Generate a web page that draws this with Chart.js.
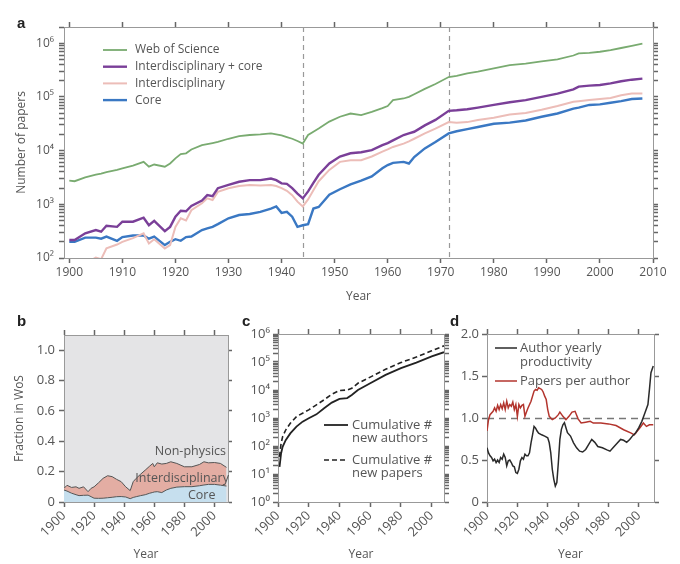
<!DOCTYPE html>
<html>
<head>
<meta charset="utf-8">
<script src="https://cdn.jsdelivr.net/npm/chart.js@4.4.1/dist/chart.umd.min.js"></script>
<style>
  body { margin: 0; background: #fff; }
  #fig { position: relative; width: 680px; height: 564px; overflow: hidden; }
  canvas { position: absolute; }
  .tag { position: absolute; font: bold 15px 'Liberation Sans', Arial, sans-serif; line-height: 15px; color: #222; }
</style>
</head>
<body>
<div id="fig">
  <canvas id="chartA" width="680" height="306" style="left:0;top:0"></canvas>
  <canvas id="chartB" width="232" height="264" style="left:0;top:300px"></canvas>
  <canvas id="chartC" width="223" height="264" style="left:232px;top:300px"></canvas>
  <canvas id="chartD" width="225" height="264" style="left:455px;top:300px"></canvas>
  <div class="tag" style="left:17px;top:15px">a</div>
  <div class="tag" style="left:17px;top:313px">b</div>
  <div class="tag" style="left:242px;top:313px">c</div>
  <div class="tag" style="left:450px;top:313px">d</div>
</div>
<script>
// ------------------ Dados (a) ------------------
const yearsA = [1900, 1901, 1903, 1905, 1906, 1907, 1909, 1910, 1912, 1914,
  1915, 1916, 1918, 1919, 1920, 1921, 1922, 1923, 1925, 1926,
  1927, 1928, 1930, 1932, 1934, 1936, 1938, 1939, 1940, 1941,
  1942, 1943, 1944, 1945, 1946, 1947, 1949, 1951, 1953, 1955,
  1957, 1959, 1960, 1961, 1963, 1964, 1965, 1967, 1969, 1971.5,
  1973, 1975, 1977, 1980, 1983, 1986, 1989, 1992, 1995, 1996,
  1998, 2000, 2002, 2004, 2006, 2008];
const wosPapers = [2750, 2690, 3160, 3550, 3720, 3980, 4370, 4680, 5250, 6170,
  5010, 5500, 5010, 5750, 7160, 8630, 8910, 10500, 12600, 13200,
  13800, 14500, 16600, 18600, 19500, 20000, 20900, 20000, 19100, 17800,
  16600, 15100, 13500, 19500, 22400, 25700, 34700, 42700, 49000, 45700,
  52500, 61700, 67600, 87100, 93300, 100000, 112000, 141000, 174000, 234000,
  245000, 275000, 295000, 339000, 389000, 417000, 457000, 501000, 589000, 646000,
  661000, 692000, 741000, 813000, 891000, 977000];
const interCorePapers = [216, 216, 288, 331, 309, 398, 380, 474, 474, 562,
  407, 490, 316, 380, 589, 759, 741, 933, 1175, 1479,
  1413, 1995, 2290, 2630, 2820, 2820, 3020, 2820, 2450, 2400,
  1995, 1585, 1290, 1740, 2510, 3550, 5750, 7760, 8910, 9330,
  10200, 12600, 13800, 15500, 19500, 20900, 22400, 29500, 37200, 55000,
  56200, 58900, 63100, 70800, 79400, 87100, 100000, 115000, 138000, 155000,
  162000, 166000, 178000, 195000, 209000, 219000];
const interPapers = [63, 63, 79, 102, 95, 151, 178, 200, 234, 288,
  186, 224, 151, 174, 380, 550, 501, 776, 1047, 1290,
  1200, 1700, 1995, 2190, 2290, 2240, 2290, 2190, 1995, 1780,
  1480, 1120, 912, 1230, 1820, 2690, 4370, 6170, 6610, 6610,
  7760, 9550, 10500, 11700, 13500, 14800, 16600, 20900, 25700, 33900,
  33100, 33900, 37200, 40700, 46800, 50100, 57500, 67600, 81300, 83200,
  87100, 91200, 95500, 107000, 115000, 115000];
const corePapers = [200, 200, 240, 240, 229, 251, 209, 245, 263, 263,
  229, 251, 174, 200, 224, 209, 245, 251, 331, 355,
  380, 427, 550, 631, 661, 724, 832, 912, 692, 724,
  589, 380, 407, 427, 832, 891, 1510, 1905, 2340, 2750,
  3310, 4680, 5370, 5890, 6170, 5750, 7590, 11000, 14500, 20900,
  22900, 25100, 27500, 31600, 33100, 36300, 42700, 49000, 60300, 63100,
  70800, 72400, 77600, 83200, 91200, 93300];
const splitYears = [1944, 1971.5];
const decadeTicks = [1900, 1910, 1920, 1930, 1940, 1950, 1960, 1970, 1980, 1990, 2000, 2010];
const paperDecades = [1e2, 1e3, 1e4, 1e5, 1e6];

// ------------------ Dados (b) ------------------
const yearsB = [1900, 1902, 1905, 1908, 1910, 1913, 1916, 1918, 1920, 1923,
  1926, 1929, 1932, 1935, 1938, 1941, 1944, 1946, 1948, 1951,
  1954, 1957, 1959, 1960, 1962, 1965, 1968, 1971, 1975, 1980,
  1985, 1990, 1993, 1996, 2000, 2004, 2008];
const coreFrac = [0.079, 0.072, 0.058, 0.048, 0.042, 0.044, 0.045, 0.035, 0.025, 0.024,
  0.025, 0.028, 0.031, 0.035, 0.036, 0.033, 0.022, 0.030, 0.035, 0.042,
  0.048, 0.058, 0.063, 0.066, 0.068, 0.062, 0.079, 0.090, 0.098, 0.101,
  0.101, 0.107, 0.112, 0.116, 0.116, 0.111, 0.105];
const physicsFrac = [0.090, 0.110, 0.096, 0.100, 0.090, 0.100, 0.068, 0.090, 0.100, 0.127,
  0.156, 0.173, 0.167, 0.149, 0.134, 0.100, 0.075, 0.134, 0.156, 0.184,
  0.210, 0.237, 0.254, 0.232, 0.258, 0.250, 0.254, 0.265, 0.254, 0.232,
  0.232, 0.247, 0.265, 0.258, 0.260, 0.254, 0.228];
const fracTicks = [0, 0.2, 0.4, 0.6, 0.8, 1.0];
const twentyTicks = [1900, 1920, 1940, 1960, 1980, 2000];

// ------------------ Dados (c) ------------------
const yearsC = [1901, 1902, 1903, 1905, 1908, 1912, 1916, 1920, 1925, 1930,
  1935, 1940, 1945, 1948, 1952, 1960, 1970, 1980, 1990, 2000, 2008];
const cumAuthors = [18, 54, 93, 162, 282, 490, 741, 977, 1350, 2240,
  3550, 4790, 5130, 6610, 10000, 17400, 34700, 60300, 95500, 158000, 224000];
const cumPapers = [41, 123, 214, 372, 646, 1120, 1480, 1950, 2950, 4470,
  7080, 9550, 10000, 11500, 17400, 28800, 55000, 95500, 151000, 251000, 380000];
const countDecades = [1e0, 1e1, 1e2, 1e3, 1e4, 1e5, 1e6];

// ------------------ Dados (d) ------------------
const yearsProd = [1900, 1901, 1902, 1903, 1904, 1905, 1906, 1907, 1908, 1909,
  1910, 1911, 1912, 1913, 1914, 1915, 1916, 1917, 1918, 1919,
  1920, 1921, 1922, 1923, 1924, 1925, 1926, 1927, 1928, 1929,
  1930, 1931, 1932, 1933, 1934, 1936, 1938, 1940, 1941, 1942,
  1943, 1944, 1945, 1946, 1947, 1948, 1949, 1950, 1951, 1952,
  1953, 1955, 1957, 1959, 1961, 1963, 1965, 1967, 1969, 1971,
  1973, 1976, 1979, 1981, 1983, 1986, 1988, 1990, 1992, 1994,
  1996, 1998, 2000, 2002, 2004, 2006, 2007, 2008, 2009.5];
const authorProductivity = [0.645, 0.585, 0.55, 0.53, 0.49, 0.51, 0.47, 0.50, 0.47, 0.53,
  0.51, 0.57, 0.53, 0.43, 0.49, 0.50, 0.47, 0.43, 0.42, 0.35,
  0.34, 0.39, 0.49, 0.53, 0.51, 0.57, 0.55, 0.55, 0.585, 0.705,
  0.80, 0.90, 0.88, 0.845, 0.82, 0.80, 0.785, 0.765, 0.705, 0.585,
  0.39, 0.27, 0.19, 0.23, 0.47, 0.745, 0.865, 0.92, 0.945, 0.885,
  0.825, 0.785, 0.705, 0.645, 0.605, 0.595, 0.625, 0.685, 0.745, 0.71,
  0.66, 0.645, 0.62, 0.605, 0.645, 0.705, 0.745, 0.735, 0.71, 0.745,
  0.79, 0.825, 0.885, 0.96, 1.06, 1.16, 1.34, 1.54, 1.62];
const yearsPPA = [1900, 1901, 1902, 1904, 1905, 1906, 1907, 1908, 1909, 1910,
  1911, 1912, 1913, 1914, 1915, 1916, 1917, 1918, 1919, 1920,
  1921, 1922, 1923, 1924, 1925, 1926, 1927, 1929, 1931, 1932,
  1933, 1934, 1935, 1936, 1937, 1938, 1939, 1940, 1941, 1943,
  1945, 1947, 1948, 1950, 1952, 1954, 1956, 1958, 1960, 1962,
  1965, 1968, 1970, 1975, 1980, 1985, 1990, 1995, 1997, 1999,
  2001, 2003, 2005, 2007, 2009.5];
const papersPerAuthor = [0.845, 0.98, 1.04, 1.08, 1.12, 1.08, 1.15, 1.10, 1.16, 1.11,
  1.18, 1.10, 1.20, 1.12, 1.16, 1.14, 1.19, 1.10, 1.16, 1.02,
  1.16, 1.12, 1.15, 1.16, 1.02, 1.07, 1.12, 1.20, 1.32, 1.34,
  1.33, 1.36, 1.35, 1.34, 1.31, 1.26, 1.22, 1.10, 1.02, 0.98,
  1.00, 1.04, 1.07, 1.02, 0.98, 1.02, 1.07, 1.08, 0.99, 0.94,
  0.95, 0.96, 0.94, 0.94, 0.93, 0.91, 0.86, 0.82, 0.80, 0.845,
  0.89, 0.94, 0.90, 0.92, 0.92];
const unityLine = [1];
const halfTicks = [0, 0.5, 1.0, 1.5, 2.0];

// ------------------ Padrões ------------------
Chart.defaults.font.family = "'Open Sans', 'DejaVu Sans', sans-serif";
Chart.defaults.font.size = 12;
Chart.defaults.color = '#555';
Chart.defaults.animation = false;
Chart.defaults.responsive = false;
Chart.defaults.plugins.legend.display = false;
Chart.defaults.plugins.tooltip.enabled = false;
Chart.defaults.elements.point.radius = 0;
Chart.defaults.elements.line.tension = 0;

const sup = {'0': '\u2070', '1': '\u00b9', '2': '\u00b2', '3': '\u00b3', '4': '\u2074', '5': '\u2075', '6': '\u2076'};
function powLabel(v) {
  const e = Math.round(Math.log10(v));
  return Math.abs(v - Math.pow(10, e)) < 1e-6 * v ? '10' + sup[e] : '';
}
function fixTicks(list) {
  return s => { s.ticks = list.map(v => ({value: v})); };
}
// marcas menores 1..9 em cada década
function logTicks(decades) {
  return s => {
    const t = [];
    decades.forEach(d => {
      for (let k = 1; k < 10; k++) {
        if (d * k <= s.max * 1.0001) t.push({value: d * k});
      }
    });
    s.ticks = t;
  };
}
function axis(pos, size, extra) {
  return Object.assign({
    position: pos,
    border: {color: '#999'},
    grid: {display: true, drawOnChartArea: false, drawTicks: true, tickLength: 5, tickColor: '#666', tickWidth: 1.5},
    afterFit: s => { if (s.isHorizontal()) s.height = size; else s.width = size; }
  }, extra);
}
function series(label, xs, ys, color, width, dash) {
  return {
    label: label,
    data: xs.map((x, i) => ({x: x, y: ys[i]})),
    borderColor: color,
    borderWidth: width,
    borderDash: dash || [],
    fill: false
  };
}

// linhas tracejadas de referência
const guidePlugin = {
  id: 'guides',
  beforeDatasetsDraw(chart, args, o) {
    const {ctx, chartArea: a, scales} = chart;
    ctx.save();
    ctx.strokeStyle = o.color || '#999';
    ctx.lineWidth = o.width || 1;
    ctx.setLineDash(o.dash || [5, 4]);
    (o.xs || []).forEach(v => {
      const px = Math.round(scales.x.getPixelForValue(v)) + 0.5;
      ctx.beginPath(); ctx.moveTo(px, a.top); ctx.lineTo(px, a.bottom); ctx.stroke();
    });
    (o.ys || []).forEach(v => {
      const py = Math.round(scales.y.getPixelForValue(v)) + 0.5;
      ctx.beginPath(); ctx.moveTo(a.left, py); ctx.lineTo(a.right, py); ctx.stroke();
    });
    ctx.restore();
  }
};

// fundo cinza da área do gráfico (b)
const bgPlugin = {
  id: 'bg',
  beforeDraw(chart, args, o) {
    if (!o.color) return;
    const {ctx, chartArea: a} = chart;
    ctx.save();
    ctx.fillStyle = o.color;
    ctx.fillRect(a.left, a.top, a.right - a.left, a.bottom - a.top);
    ctx.restore();
  }
};

// legenda desenhada dentro da área
const keyPlugin = {
  id: 'key',
  afterDatasetsDraw(chart, args, o) {
    if (o.x === undefined) return;
    const {ctx, chartArea: a} = chart;
    ctx.save();
    ctx.font = o.font || "12px 'Open Sans', sans-serif";
    ctx.textBaseline = 'middle';
    let y = a.top + o.y;
    const x = a.left + o.x;
    chart.data.datasets.forEach(ds => {
      if (!ds.label) return;
      ctx.strokeStyle = ds.borderColor;
      ctx.lineWidth = ds.borderWidth;
      ctx.setLineDash(ds.borderDash || []);
      ctx.beginPath(); ctx.moveTo(x, y); ctx.lineTo(x + o.len, y); ctx.stroke();
      ctx.fillStyle = o.color || '#555';
      const lines = ds.label.split('\n');
      lines.forEach((t, i) => ctx.fillText(t, x + o.len + o.gap, y + i * o.lineH));
      y += lines.length * o.lineH + (o.space || 0);
    });
    ctx.restore();
  }
};

// rótulos de texto em coordenadas de dados
const notePlugin = {
  id: 'notes',
  afterDatasetsDraw(chart, args, o) {
    if (!o.items) return;
    const {ctx, scales} = chart;
    ctx.save();
    ctx.font = o.font;
    ctx.fillStyle = o.color;
    ctx.textAlign = 'center';
    ctx.textBaseline = 'middle';
    o.items.forEach(n => ctx.fillText(n.text, scales.x.getPixelForValue(n.x), scales.y.getPixelForValue(n.y)));
    ctx.restore();
  }
};

Chart.register(guidePlugin, bgPlugin, keyPlugin, notePlugin);

const small = {size: 13};
const rotated = {minRotation: 45, maxRotation: 45, padding: 1, font: small, callback: v => String(v)};

// ------------------ Painel a ------------------
new Chart(document.getElementById('chartA'), {
  type: 'line',
  data: {
    datasets: [
      series('Web of Science', yearsA, wosPapers, '#79ab70', 1.8),
      series('Interdisciplinary + core', yearsA, interCorePapers, '#7a3f98', 2.4),
      series('Interdisciplinary', yearsA, interPapers, '#ecbdb8', 2),
      series('Core', yearsA, corePapers, '#3a78c3', 2.4)
    ]
  },
  options: {
    layout: {padding: 0},
    scales: {
      x: axis('bottom', 48, {type: 'linear', min: 1899, max: 2010,
        ticks: {padding: 2, callback: v => String(v)},
        title: {display: true, text: 'Year', color: '#555', padding: {top: 0, bottom: 2}},
        afterBuildTicks: fixTicks(decadeTicks)}),
      x2: axis('top', 27, {type: 'linear', min: 1899, max: 2010, ticks: {display: false},
        afterBuildTicks: fixTicks(decadeTicks)}),
      y: axis('left', 64, {type: 'logarithmic', min: 100, max: 2e6,
        ticks: {autoSkip: false, padding: 5, callback: powLabel},
        title: {display: true, text: 'Number of papers', color: '#555', padding: {top: 14, bottom: 0}},
        afterBuildTicks: logTicks(paperDecades)}),
      y2: axis('right', 27, {type: 'logarithmic', min: 100, max: 2e6, ticks: {display: false},
        afterBuildTicks: logTicks(paperDecades)})
    },
    plugins: {
      guides: {xs: splitYears, color: '#999', width: 1.2, dash: [5, 4]},
      key: {x: 39, y: 23, len: 24, gap: 8, lineH: 16.7}
    }
  }
});

// ------------------ Painel b ------------------
new Chart(document.getElementById('chartB'), {
  type: 'line',
  data: {
    datasets: [
      Object.assign(series('', yearsB, coreFrac, '#555', 1), {fill: 'origin', backgroundColor: '#c6dfee'}),
      Object.assign(series('', yearsB, physicsFrac, '#555', 1), {fill: '-1', backgroundColor: '#e3ada3'})
    ]
  },
  options: {
    scales: {
      x: axis('bottom', 62, {type: 'linear', min: 1900, max: 2009, ticks: rotated,
        title: {display: true, text: 'Year', color: '#555', padding: {top: 0, bottom: 2}},
        afterBuildTicks: fixTicks(twentyTicks)}),
      x2: axis('top', 35, {type: 'linear', min: 1900, max: 2009, ticks: {display: false},
        afterBuildTicks: fixTicks(twentyTicks)}),
      y: axis('left', 64, {type: 'linear', min: 0, max: 1.1,
        ticks: {padding: 4, font: small, callback: v => v === 0 ? '0' : v.toFixed(1)},
        title: {display: true, text: 'Fraction in WoS', color: '#555', padding: {top: 12, bottom: 0}},
        afterBuildTicks: fixTicks(fracTicks)}),
      y2: axis('right', 4, {type: 'linear', min: 0, max: 1.1, ticks: {display: false},
        afterBuildTicks: fixTicks(fracTicks)})
    },
    plugins: {
      bg: {color: '#e4e4e6'},
      notes: {font: "12.5px 'Open Sans', sans-serif", color: '#555', items: [
        {text: 'Non-physics', x: 1984, y: 0.33},
        {text: 'Interdisciplinary', x: 1978.5, y: 0.158},
        {text: 'Core', x: 1991.5, y: 0.046}
      ]}
    }
  }
});

// ------------------ Painel c ------------------
new Chart(document.getElementById('chartC'), {
  type: 'line',
  data: {
    datasets: [
      series('Cumulative #\nnew authors', yearsC, cumAuthors, '#222', 1.8),
      series('Cumulative #\nnew papers', yearsC, cumPapers, '#222', 1.6, [5, 3])
    ]
  },
  options: {
    scales: {
      x: axis('bottom', 62, {type: 'linear', min: 1900, max: 2008, ticks: rotated,
        title: {display: true, text: 'Year', color: '#555', padding: {top: 0, bottom: 2}},
        afterBuildTicks: fixTicks(twentyTicks)}),
      x2: axis('top', 34, {type: 'linear', min: 1900, max: 2008, ticks: {display: false},
        afterBuildTicks: fixTicks(twentyTicks)}),
      y: axis('left', 46, {type: 'logarithmic', min: 1, max: 1e6,
        ticks: {autoSkip: false, padding: 3, font: small, callback: powLabel},
        afterBuildTicks: logTicks(countDecades)}),
      y2: axis('right', 11, {type: 'logarithmic', min: 1, max: 1e6, ticks: {display: false},
        afterBuildTicks: logTicks(countDecades)})
    },
    plugins: {
      key: {x: 46, y: 91, len: 24, gap: 4, lineH: 13.5, space: 8, font: "13px 'Open Sans', sans-serif"}
    }
  }
});

// ------------------ Painel d ------------------
new Chart(document.getElementById('chartD'), {
  type: 'line',
  data: {
    datasets: [
      series('Author yearly\nproductivity', yearsProd, authorProductivity, '#2a2a2a', 1.5),
      series('Papers per author', yearsPPA, papersPerAuthor, '#b3352e', 1.5)
    ]
  },
  options: {
    scales: {
      x: axis('bottom', 62, {type: 'linear', min: 1900, max: 2010, ticks: rotated,
        title: {display: true, text: 'Year', color: '#555', padding: {top: 0, bottom: 2}},
        afterBuildTicks: fixTicks(twentyTicks)}),
      x2: axis('top', 34, {type: 'linear', min: 1900, max: 2010, ticks: {display: false},
        afterBuildTicks: fixTicks(twentyTicks)}),
      y: axis('left', 32, {type: 'linear', min: 0, max: 2,
        ticks: {padding: 3, font: small, callback: v => v === 0 ? '0' : v.toFixed(1)},
        afterBuildTicks: fixTicks(halfTicks)}),
      y2: axis('right', 26, {type: 'linear', min: 0, max: 2, ticks: {display: false},
        afterBuildTicks: fixTicks(halfTicks)})
    },
    plugins: {
      guides: {ys: unityLine, color: '#777', width: 1.3, dash: [7, 5]},
      key: {x: 8, y: 14, len: 22, gap: 3, lineH: 14, space: 5, font: "13px 'Open Sans', sans-serif"}
    }
  }
});
</script>
</body>
</html>
